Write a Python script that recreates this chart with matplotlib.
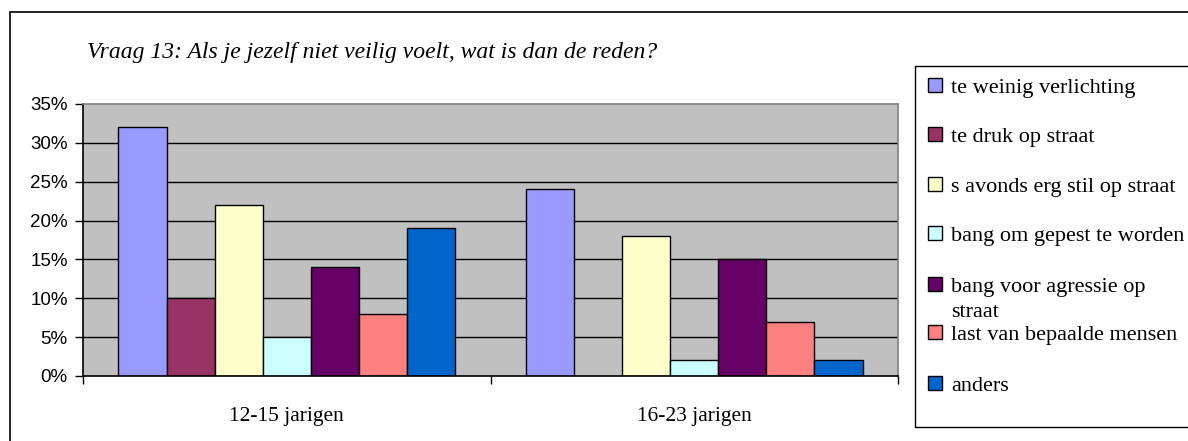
import matplotlib
matplotlib.use("Agg")
import matplotlib.pyplot as plt
from matplotlib.patches import Rectangle
from matplotlib.ticker import PercentFormatter
import numpy as np

title = "Vraag 13: Als je jezelf niet veilig voelt, wat is dan de reden?"
groups = ["12-15 jarigen", "16-23 jarigen"]
series_labels = [
    "te weinig verlichting",
    "te druk op straat",
    "s avonds erg stil op straat",
    "bang om gepest te worden",
    "bang voor agressie op\nstraat",
    "last van bepaalde mensen",
    "anders",
]
values_1215 = [32, 10, 22, 5, 14, 8, 19]
values_1623 = [24, 0, 18, 2, 15, 7, 2]
colors = ["#9999FF", "#993366", "#FFFFCC", "#CCFFFF", "#660066", "#FF8080", "#0066CC"]
yticks = [0, 5, 10, 15, 20, 25, 30, 35]

W, H = 1188, 441
fig = plt.figure(figsize=(W / 100, H / 100), dpi=100)

def fx(px):
    return px / W

def fy(py):
    return 1 - py / H

serif = ["Liberation Serif", "DejaVu Serif"]
sans = ["Liberation Sans", "DejaVu Sans"]

# outer frame (right and bottom cut off)
fig.patches.append(Rectangle((fx(10), fy(460)), fx(1300), fy(12) - fy(460),
                             transform=fig.transFigure, fill=False,
                             edgecolor="black", linewidth=1.2, zorder=0))

ax = fig.add_axes([fx(83), fy(376), fx(898) - fx(83), fy(104) - fy(376)])
ax.set_facecolor("#C0C0C0")

data = np.array([values_1215, values_1623])
n = len(series_labels)
bw = 0.118
x = np.arange(len(groups))
for i in range(n):
    vals = data[:, i]
    offs = x + (i - (n - 1) / 2) * bw
    for xo, v in zip(offs, vals):
        if v > 0:
            ax.bar(xo, v, width=bw, color=colors[i], edgecolor="black",
                   linewidth=1.0, zorder=3)

ax.set_xlim(-0.5, len(groups) - 0.5)
ax.set_ylim(0, 35)
ax.set_yticks(yticks)
ax.yaxis.set_major_formatter(PercentFormatter(decimals=0))
for t in yticks[1:-1]:
    ax.axhline(t, color="black", linewidth=1.0, zorder=1)

ax.set_xticks(x)
ax.set_xticklabels(groups, fontfamily=serif, fontsize=15.5)
ax.tick_params(axis="x", length=0, pad=22)
ax.set_xticks(np.arange(len(groups) + 1) - 0.5, minor=True)
ax.tick_params(axis="x", which="minor", length=6, width=1, color="black", direction="out")
ax.tick_params(axis="y", length=6, width=1, color="black", direction="out", pad=5)
for lab in ax.get_yticklabels():
    lab.set_fontfamily(sans)
    lab.set_fontsize(13.5)

ax.spines["left"].set_color("black")
ax.spines["bottom"].set_color("black")
ax.spines["top"].set_color("#808080")
ax.spines["right"].set_color("#808080")
for s in ax.spines.values():
    s.set_linewidth(1.2)
    s.set_zorder(4)

fig.text(fx(87), fy(58), title, fontfamily=serif, fontstyle="italic",
         fontsize=17, va="baseline", ha="left")

# legend box (right side cut off)
fig.patches.append(Rectangle((fx(915), fy(427)), fx(400), fy(66) - fy(427),
                             transform=fig.transFigure, fill=False,
                             edgecolor="black", linewidth=1.0, zorder=1))
entry_y = [85, 134, 184, 233, 284, 332, 383]
for lbl, c, py in zip(series_labels, colors, entry_y):
    s = 14
    fig.patches.append(Rectangle((fx(928), fy(py + s / 2)), fx(s), fy(py - s / 2) - fy(py + s / 2),
                                 transform=fig.transFigure, facecolor=c,
                                 edgecolor="black", linewidth=1.0, zorder=2))
    for k, line in enumerate(lbl.split("\n")):
        fig.text(fx(951), fy(py + 8 + 25 * k), line, fontfamily=serif, fontsize=16,
                 va="baseline", ha="left")

fig.savefig("out.png", dpi=100)
